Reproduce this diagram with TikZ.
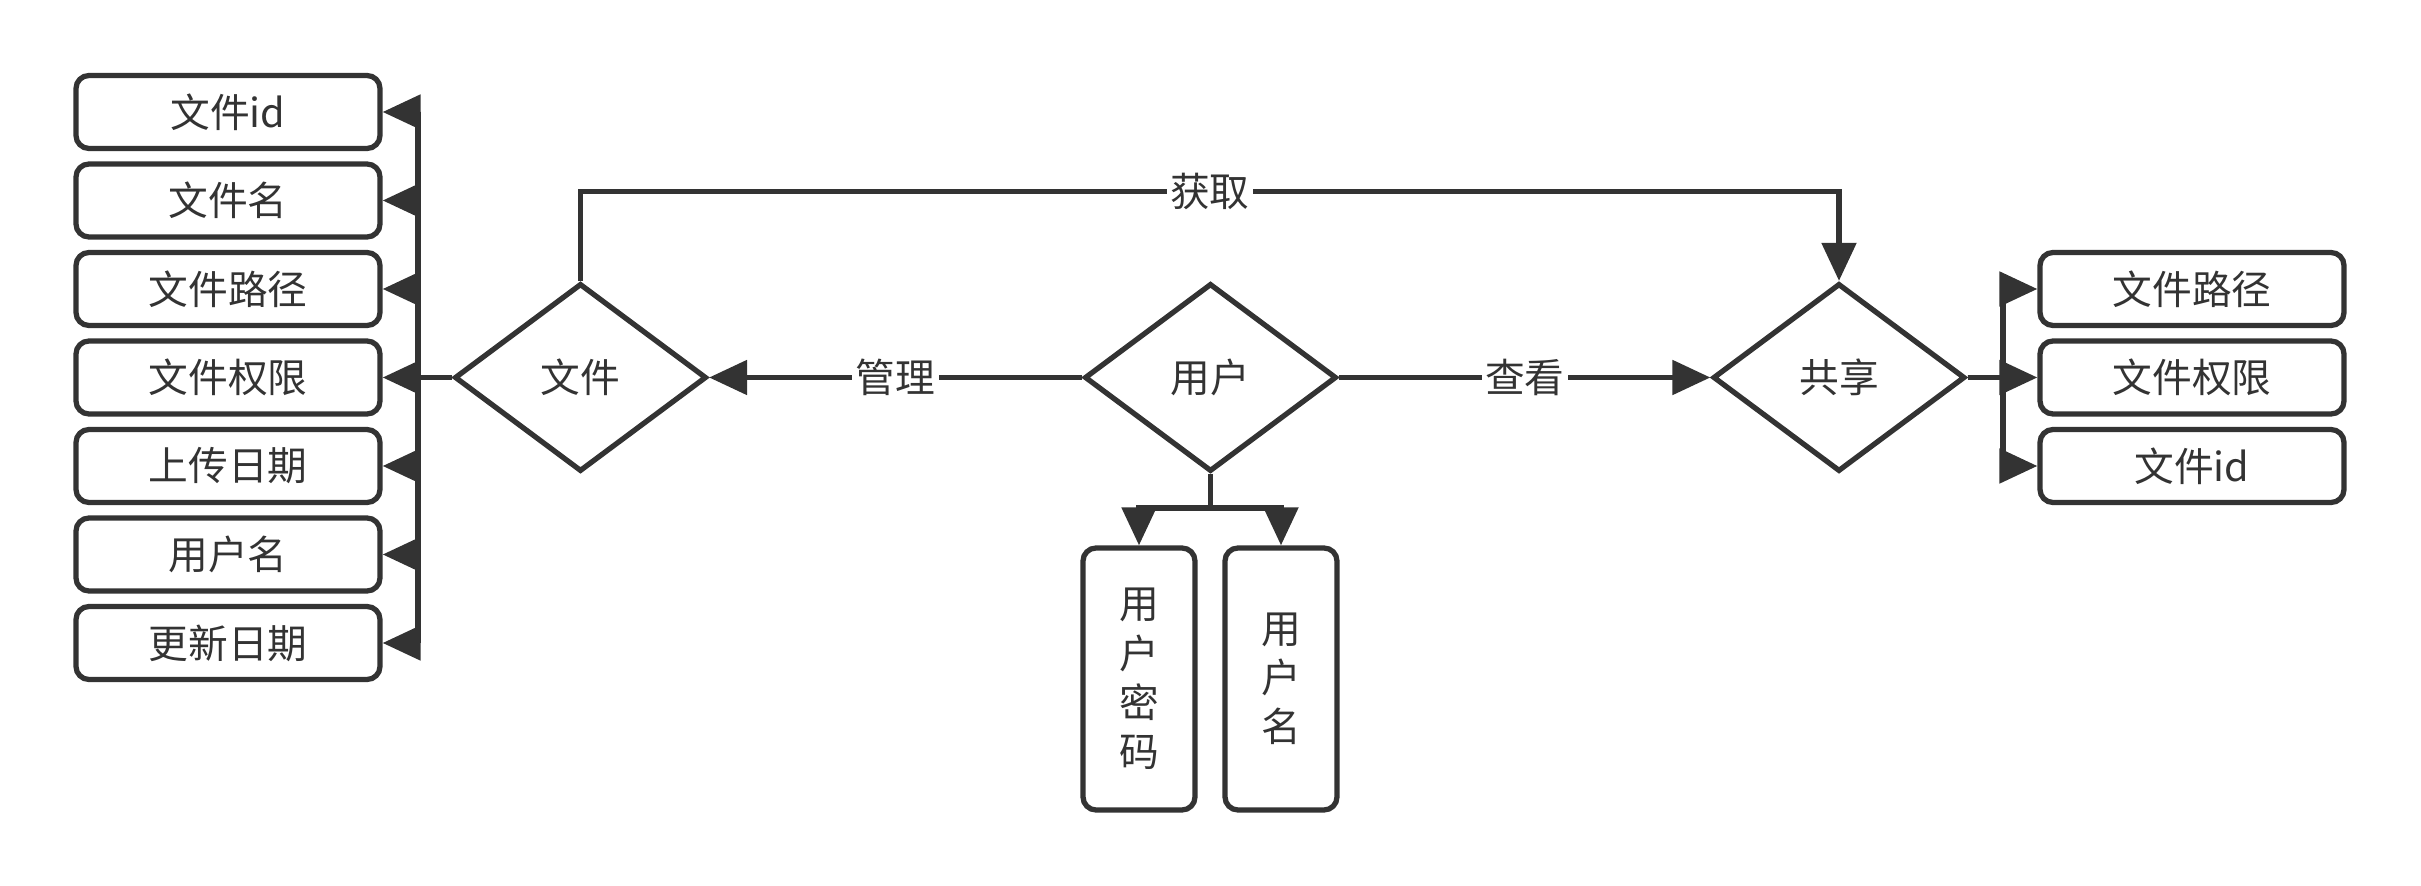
\documentclass[tikz,border=0pt]{standalone}
\usepackage{fontspec}
\setmainfont{Noto Sans CJK SC}
\usepackage{tikz}
\usetikzlibrary{arrows.meta,shapes.geometric}
\definecolor{ink}{HTML}{333333}

\begin{document}
\begin{tikzpicture}[every node/.style={font=\fontsize{11.3}{14}\selectfont, text=ink}, >={Triangle[length=3.8mm, width=3.4mm]},
	attr/.style={draw=ink, line width=1.5pt, rounded corners=1.3mm, minimum width=3.04cm, minimum height=0.73cm},
	tallattr/.style={draw=ink, line width=1.5pt, rounded corners=1.3mm, minimum width=1.12cm, minimum height=2.62cm, align=center},
	rel/.style={draw=ink, line width=1.5pt, diamond, aspect=1, minimum width=2.52cm, minimum height=1.88cm, inner sep=0pt},
	link/.style={draw=ink, line width=1.5pt},
	lbl/.style={fill=white, inner sep=1pt}]
	\useasboundingbox (0,0) rectangle (24.21,8.86);
	% relations
	\node[rel] (file) at (5.805,5.085) {文件};
	\node[rel] (user) at (12.105,5.085) {用户};
	\node[rel] (share) at (18.39,5.085) {共享};
	% attributes of file
	\node[attr] (fid) at (2.28,7.74) {文件id};
	\node[attr] (fname) at (2.28,6.855) {文件名};
	\node[attr] (fpath) at (2.28,5.97) {文件路径};
	\node[attr] (fperm) at (2.28,5.085) {文件权限};
	\node[attr] (fup) at (2.28,4.20) {上传日期};
	\node[attr] (fuser) at (2.28,3.315) {用户名};
	\node[attr] (fnew) at (2.28,2.43) {更新日期};
	% attributes of share
	\node[attr] (spath) at (21.92,5.97) {文件路径};
	\node[attr] (sperm) at (21.92,5.085) {文件权限};
	\node[attr] (sid) at (21.92,4.20) {文件id};
	% attributes of user
	\node[tallattr] (upwd) at (11.39,2.07) {用\\户\\密\\码};
	\node[tallattr] (uname) at (12.81,2.07) {用\\户\\名};
	\coordinate (lbus) at (4.18,5.085);
	\coordinate (rbus) at (20.03,5.085);
	\coordinate (ubus) at (12.105,3.78);
	% file -> attributes
	\draw[link, ->] (file.west) -- (lbus) |- (fid.east);
	\draw[link, ->] (file.west) -- (lbus) |- (fname.east);
	\draw[link, ->] (file.west) -- (lbus) |- (fpath.east);
	\draw[link, ->] (file.west) -- (lbus) -- (fperm.east);
	\draw[link, ->] (file.west) -- (lbus) |- (fup.east);
	\draw[link, ->] (file.west) -- (lbus) |- (fuser.east);
	\draw[link, ->] (file.west) -- (lbus) |- (fnew.east);
	% share -> attributes
	\draw[link, ->] (share.east) -- (rbus) |- (spath.west);
	\draw[link, ->] (share.east) -- (rbus) -- (sperm.west);
	\draw[link, ->] (share.east) -- (rbus) |- (sid.west);
	% user -> attributes
	\draw[link, ->] (user.south) -- (ubus) -| (upwd.north);
	\draw[link, ->] (user.south) -- (ubus) -| (uname.north);
	% relations
	\draw[link, ->] (user.west) -- node[lbl] {管理} (file.east);
	\draw[link, ->] (user.east) -- node[lbl] {查看} (share.west);
	\draw[link, ->] (file.north) -- ++(0,0.89) -| node[lbl, pos=0.25] {获取} (share.north);
\end{tikzpicture}
\end{document}
